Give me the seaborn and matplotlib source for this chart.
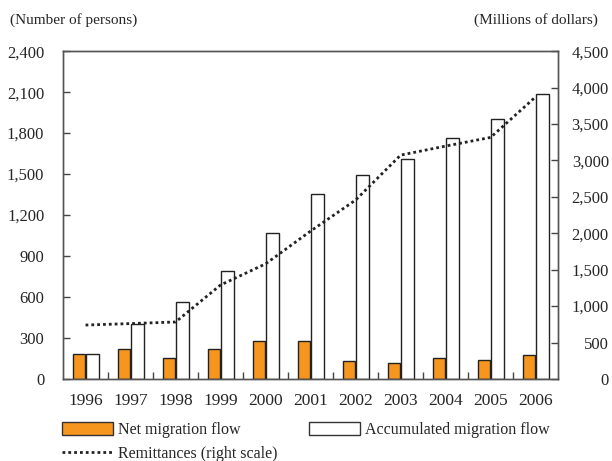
import numpy as np
import pandas as pd
import matplotlib
matplotlib.use('Agg')
import matplotlib.pyplot as plt
from matplotlib.patches import Patch
from matplotlib.lines import Line2D
from matplotlib.ticker import FuncFormatter
import seaborn as sns

# data
years = ['1996', '1997', '1998', '1999', '2000', '2001', '2002', '2003', '2004', '2005', '2006']
net_flow = [183, 217, 156, 219, 280, 280, 132, 115, 156, 139, 176]
accum_flow = [183, 405, 563, 790, 1070, 1353, 1490, 1607, 1763, 1904, 2085]
remittances = [740, 760, 782, 1290, 1580, 2030, 2456, 3073, 3197, 3316, 3873]

lab_net = 'Net migration flow'
lab_acc = 'Accumulated migration flow'
lab_rem = 'Remittances (right scale)'

orange = '#F7961E'
dots = (0, (1, 1.1))

sns.set_theme(style='white')
plt.rcParams['font.family'] = ['Liberation Serif', 'DejaVu Serif']
plt.rcParams['font.size'] = 12

df = pd.DataFrame({
	'year': years * 2,
	'value': net_flow + accum_flow,
	'series': [lab_net] * len(years) + [lab_acc] * len(years),
})

fig = plt.figure(figsize=(6.12, 4.61), dpi=100)
ax = fig.add_axes([0.103, 0.178, 0.809, 0.711])

# saturation=1 so the orange is not dulled
sns.barplot(data=df, x='year', y='value', hue='series', hue_order=[lab_net, lab_acc],
			palette=[orange, 'white'], saturation=1, width=0.6, gap=0.08, ax=ax, legend=False,
			edgecolor='#222222', linewidth=1.0)

ax.set_xlim(-0.5, len(years) - 0.5)
ax.set_ylim(0, 2400)
ax.set_yticks(np.arange(0, 2401, 300))
ax.yaxis.set_major_formatter(FuncFormatter(lambda v, p: '{:,.0f}'.format(v)))
ax.set_xlabel('')
ax.set_ylabel('')
ax.set_xticks(np.arange(0.5, len(years) - 1, 1), minor=True)
ax.tick_params(axis='x', which='major', length=0, pad=10, labelsize=12.5)
ax.tick_params(axis='x', which='minor', direction='in', length=5, width=1, color='#444444', bottom=True)
ax.tick_params(axis='y', direction='in', length=5, width=1, color='#444444', left=True, pad=13.5, labelsize=12)

ax2 = ax.twinx()
sns.lineplot(x=np.arange(len(years)), y=remittances, ax=ax2, color='#222222',
			 linestyle=dots, linewidth=2.0)
ax2.set_ylim(0, 4500)
ax2.set_yticks(np.arange(0, 4501, 500))
ax2.yaxis.set_major_formatter(FuncFormatter(lambda v, p: '{:,.0f}'.format(v)))
# right labels are right-aligned at the figure edge
ax2.tick_params(axis='y', direction='in', length=5, width=1, color='#444444', right=True, pad=36.5, labelsize=12)
for t in ax2.get_yticklabels():
	t.set_horizontalalignment('right')
ax2.set_xlim(-0.5, len(years) - 0.5)

for a in (ax, ax2):
	for s in a.spines.values():
		s.set_color('#555555')
		s.set_linewidth(1.0)

fig.text(0.016, 0.957, '(Number of persons)', fontsize=11, ha='left', va='center')
fig.text(0.977, 0.957, '(Millions of dollars)', fontsize=11, ha='right', va='center')

handles = [
	Patch(facecolor=orange, edgecolor='#333333', linewidth=1.0),
	Line2D([0], [0], color='#222222', linestyle=dots, linewidth=2.0),
	Patch(facecolor='white', edgecolor='#333333', linewidth=1.0),
]
fig.legend(handles, [lab_net, lab_rem, lab_acc], ncol=2, loc='upper left',
		   bbox_to_anchor=(0.101, 0.085), frameon=False, handlelength=3.2, handleheight=0.9,
		   handletextpad=0.3, columnspacing=2.0, labelspacing=0.5, fontsize=11.5,
		   borderpad=0, borderaxespad=0)

fig.savefig('out.png', dpi=100)
